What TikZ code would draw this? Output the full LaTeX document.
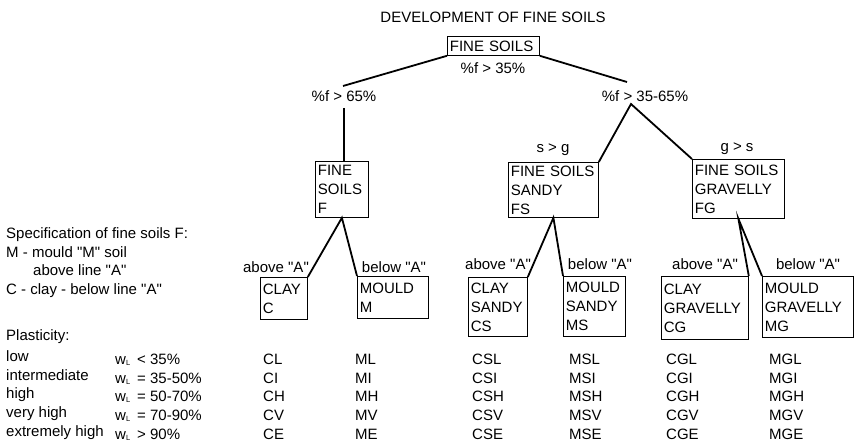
\documentclass[tikz,border=0pt]{standalone}
\usepackage{fontspec}
\setmainfont{Liberation Sans}[Ligatures=TeXOff]
\begin{document}
\begin{tikzpicture}[x=1pt,y=-1pt,
  every node/.style={font=\fontsize{15}{19}\selectfont, inner sep=0pt},
  soilbox/.style={draw, line width=0.8pt, anchor=north west, align=left, inner sep=2.5pt},
  link/.style={line width=1.8pt}]
\useasboundingbox (0,0) rectangle (854,443);

\node[anchor=base] (title) at (493,22.5) {DEVELOPMENT OF FINE SOILS};

% boxes
\node[soilbox, text width=87pt, minimum height=19pt] (fine) at (447,36) {FINE SOILS};
\node[soilbox, text width=48pt, minimum height=56pt] (boxF) at (315,161) {FINE\\SOILS\\F};
\node[soilbox, text width=85pt, minimum height=55pt] (boxFS) at (508,162) {FINE SOILS\\SANDY\\FS};
\node[soilbox, text width=87pt, minimum height=59pt] (boxFG) at (692,159) {FINE SOILS\\GRAVELLY\\FG};
\node[soilbox, text width=42pt, minimum height=42pt] (boxC) at (260,277) {CLAY\\C};
\node[soilbox, text width=66pt, minimum height=42pt] (boxM) at (357,276) {MOULD\\M};
\node[soilbox, text width=54pt, minimum height=59pt] (boxCS) at (468,277) {CLAY\\SANDY\\CS};
\node[soilbox, text width=57pt, minimum height=60pt] (boxMS) at (563,276) {MOULD\\SANDY\\MS};
\node[soilbox, text width=82pt, minimum height=63pt] (boxCG) at (661,276) {CLAY\\GRAVELLY\\CG};
\node[soilbox, text width=86pt, minimum height=61pt] (boxMG) at (762,276) {MOULD\\GRAVELLY\\MG};

% labels on the branches
\node[anchor=base] (f35) at (493,74) {\%f > 35\%};
\node[anchor=base] (f65) at (344,101.7) {\%f > 65\%};
\node[anchor=base] (f3565) at (645,101.7) {\%f > 35-65\%};
\node[anchor=base] (sg) at (553,153) {s > g};
\node[anchor=base] (gs) at (737,152) {g > s};
\node[anchor=base] (aboveC) at (276,273) {above "A"};
\node[anchor=base] (belowM) at (394,273) {below "A"};
\node[anchor=base] (aboveCS) at (498,270) {above "A"};
\node[anchor=base] (belowMS) at (600,270) {below "A"};
\node[anchor=base] (aboveCG) at (705,270) {above "A"};
\node[anchor=base] (belowMG) at (808,270) {below "A"};

% branches
\coordinate (k65) at (343,86);
\coordinate (k65b) at (344,108);
\coordinate (k3565) at (627,82);
\coordinate (fork) at (631,104);
\draw[link] (fine.south west) -- (k65);
\draw[link] (fine.south east) -- (k3565);
\draw[link] (k65b) -- (k65b |- boxF.north);
\draw[link] (boxFS.north east) -- (fork) -- (boxFG.north west);
\draw[link] (boxC.north east) -- (boxF.south) -- (boxM.north west);
\draw[link] (boxCS.north east) -- (boxFS.south) -- (boxMS.north west);
\draw[link] (boxCG.north east) -- (boxFG.south) -- (boxMG.north west);

% key on the left
\node[anchor=base west] (spec) at (6,238.5) {Specification of fine soils F:};
\node[anchor=base west] (specM) at (6,257.5) {M - mould "M" soil};
\node[anchor=base west] (specA) at (33,275.5) {above line "A"};
\node[anchor=base west] (specC) at (6,294.5) {C - clay - below line "A"};
\node[anchor=base west] (plast) at (6,341) {Plasticity:};

\foreach \lvl/\rel [count=\r from 0] in {low/{< 35\%}, intermediate/{= 35-50\%},
    high/{= 50-70\%}, very high/{= 70-90\%}, extremely high/{> 90\%}} {
  \node[anchor=base west] (lvl\r) at (6,361.5+18.75*\r) {\lvl};
  \node[anchor=base west] (wl\r) at (115,364.5+18.75*\r)
    {w\raisebox{-1pt}{\fontsize{7.5}{8}\selectfont L}}; % w_L
  \node[anchor=base west] (rel\r) at (137,364.5+18.75*\r) {\rel};
}

% symbols under each box
\foreach \grp/\px in {C/263,M/355,CS/472,MS/569,CG/666,MG/769}
  \foreach \pl [count=\r from 0] in {L,I,H,V,E}
    \node[anchor=base west] (\grp\pl) at (\px,364.5+18.75*\r) {\grp\pl};
\end{tikzpicture}
\end{document}
